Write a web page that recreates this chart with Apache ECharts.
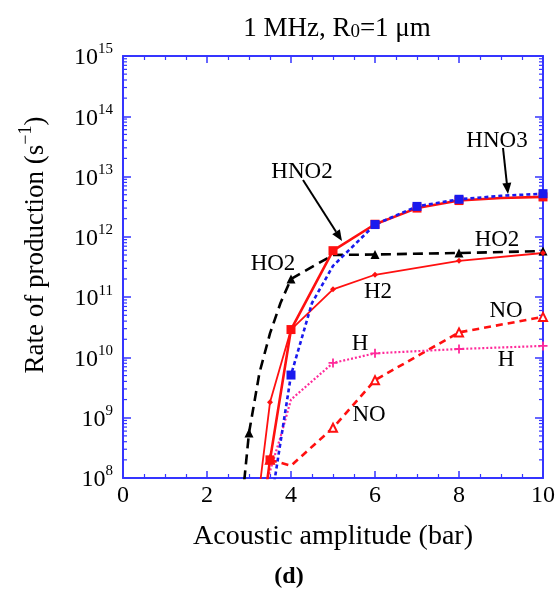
<!DOCTYPE html>
<html>
<head>
<meta charset="utf-8">
<script src="https://cdn.jsdelivr.net/npm/echarts@6/dist/echarts.min.js"></script>
<style>
  html, body { margin: 0; padding: 0; background: #fff; }
  #chart { width: 558px; height: 592px; }
</style>
</head>
<body>
<div id="chart"></div>
<script>
// Rate of production of chemical species vs acoustic amplitude (1 MHz, R0 = 1 µm)

// HNO2
const ampHNO2  = [3.4, 3.5, 4, 5, 6, 7, 8, 9, 10];
const rateHNO2 = [6e7, 2e8, 2.9e10, 5.9e11, 1.62e12, 3.0e12, 4.0e12, 4.4e12, 4.6e12];
const markHNO2 = [3.5, 4, 5, 6, 7, 8, 10];

// HNO3
const ampHNO3  = [3.55, 4, 4.5, 5, 6, 7, 8, 9, 10];
const rateHNO3 = [5e7, 5.1e9, 8e10, 3.3e11, 1.6e12, 3.2e12, 4.2e12, 4.8e12, 5.2e12];
const markHNO3 = [4, 6, 7, 8, 10];

// HO2
const ampHO2  = [2.85, 3, 3.25, 3.5, 3.75, 4, 5, 6, 8, 10];
const rateHO2 = [5e7, 5.6e8, 5.6e9, 2.5e10, 8e10, 2.0e11, 5.0e11, 5.1e11, 5.4e11, 5.8e11];
const markHO2 = [3, 4, 6, 8, 10];

// H2
const ampH2  = [3.25, 3.5, 4, 5, 6, 8, 10];
const rateH2 = [6.8e7, 1.8e9, 2.9e10, 1.35e11, 2.35e11, 4.0e11, 5.4e11];
const markH2 = [3.5, 4, 5, 6, 8, 10];

// H
const ampH  = [3.45, 3.6, 3.75, 4, 5, 6, 8, 10];
const rateH = [1e8, 2.2e8, 4.8e8, 2.0e9, 8.1e9, 1.17e10, 1.38e10, 1.55e10];
const markH = [5, 6, 8, 10];

// NO
const ampNO  = [3.5, 4, 5, 6, 8, 10];
const rateNO = [2e8, 1.6e8, 6.8e8, 4.2e9, 2.6e10, 4.7e10];
const markNO = [3.5, 5, 6, 8, 10];

// axis ranges
const ampMin = 0, ampMax = 10, ampStep = 2;
const rateMin = 1e8, rateMax = 1e15;

const SERIF = "'Liberation Serif','Times New Roman',serif";
const FRAME = '#3535ff';

// log minor tick positions (2..9 within every decade)
const minorRates = [];
for (let k = 8; k < 15; k++) {
  for (let m = 2; m <= 9; m++) minorRates.push(m * Math.pow(10, k));
}

function pairs(xs, ys) { return xs.map((x, i) => [x, ys[i]]); }
function symbolAt(list, sym) {
  return (v) => (list.indexOf(v[0]) >= 0 ? sym : 'none');
}

const plusPath = 'path://M4,0H6V4H10V6H6V10H4V6H0V4H4Z';

function xAxisCfg(pos, showLabel) {
  return {
    type: 'value', min: ampMin, max: ampMax, interval: ampStep, position: pos,
    axisLine: { show: true, onZero: false, lineStyle: { color: FRAME, width: 2 } },
    axisTick: { show: true, inside: true, length: 7, lineStyle: { color: FRAME, width: 1.5 } },
    minorTick: { show: true, splitNumber: 4, length: 4, lineStyle: { color: FRAME, width: 1.2 } },
    splitLine: { show: false },
    axisLabel: { show: showLabel, color: '#000', fontFamily: SERIF, fontSize: 24, margin: 6 }
  };
}
function yAxisCfg(pos, showLabel) {
  return {
    type: 'log', logBase: 10, min: rateMin, max: rateMax, splitNumber: 7, position: pos,
    axisLine: { show: true, onZero: false, lineStyle: { color: FRAME, width: 2 } },
    axisTick: { show: true, inside: true, length: 8, lineStyle: { color: FRAME, width: 1.5 } },
    minorTick: { show: false },
    splitLine: { show: false },
    axisLabel: {
      show: showLabel, margin: 10,
      formatter: (v) => '{b|10}{e|' + Math.round(Math.log10(v)) + '}',
      rich: {
        b: { fontFamily: SERIF, fontSize: 24, color: '#000', verticalAlign: 'bottom', lineHeight: 28 },
        e: { fontFamily: SERIF, fontSize: 15, color: '#000', verticalAlign: 'top', lineHeight: 15 }
      }
    }
  };
}

const xTitle = xAxisCfg('bottom', true);
xTitle.name = 'Acoustic amplitude (bar)';
xTitle.nameLocation = 'middle';
xTitle.nameGap = 45;
xTitle.nameTextStyle = { fontFamily: SERIF, fontSize: 28, color: '#000' };

function lineSeries(name, xs, ys, marks, sym, size, color, width, type, extra) {
  return Object.assign({
    name: name, type: 'line', xAxisIndex: 0, yAxisIndex: 0,
    data: pairs(xs, ys),
    symbol: symbolAt(marks, sym), symbolSize: size,
    itemStyle: { color: color },
    lineStyle: { color: color, width: width, type: type },
    clip: true, silent: true, animation: false
  }, extra || {});
}

const series = [
  lineSeries('HO2', ampHO2, rateHO2, markHO2, 'triangle', 9, '#000', 2.6, [10, 6]),
  lineSeries('NO', ampNO, rateNO, markNO, 'emptyTriangle', 8, '#ff1010', 2.6, [7, 5],
    { itemStyle: { color: '#ff1010', borderWidth: 1.4 } }),
  lineSeries('H', ampH, rateH, markH, plusPath, 9, '#ff2a9a', 2.2, [2, 2]),
  lineSeries('H2', ampH2, rateH2, markH2, 'diamond', 6, '#ff1010', 1.8, 'solid'),
  lineSeries('HNO2', ampHNO2, rateHNO2, markHNO2, 'rect', 9, '#ff1010', 2.6, 'solid'),
  lineSeries('HNO3', ampHNO3, rateHNO3, markHNO3, 'rect', 9, '#1a1aee', 2.6, [4, 3]),
  {
    type: 'custom', coordinateSystem: 'cartesian2d', xAxisIndex: 0, yAxisIndex: 0,
    data: minorRates.map((v) => [ampMin, v]), silent: true, animation: false, z: 3,
    renderItem: (params, api) => {
      const p = api.coord([ampMin, api.value(1)]);
      const cs = params.coordSys;
      const st = { stroke: FRAME, lineWidth: 1.2 };
      return {
        type: 'group', children: [
          { type: 'line', shape: { x1: cs.x, y1: p[1], x2: cs.x + 4, y2: p[1] }, style: st },
          { type: 'line', shape: { x1: cs.x + cs.width, y1: p[1], x2: cs.x + cs.width - 4, y2: p[1] }, style: st }
        ]
      };
    }
  }
];

function label(text, x, y, size, extra) {
  return Object.assign({
    type: 'text', x: x, y: y, silent: true, z: 10,
    style: { text: text, fill: '#000', font: (size || 23) + 'px ' + SERIF, align: 'center', verticalAlign: 'middle' }
  }, extra || {});
}

function arrow(x1, y1, x2, y2) {
  const ang = Math.atan2(y2 - y1, x2 - x1);
  const L = 11, W = 4.5;
  const bx = x2 - L * Math.cos(ang), by = y2 - L * Math.sin(ang);
  const nx = -Math.sin(ang), ny = Math.cos(ang);
  return [
    { type: 'line', silent: true, z: 10, shape: { x1: x1, y1: y1, x2: bx, y2: by }, style: { stroke: '#000', lineWidth: 2 } },
    { type: 'polygon', silent: true, z: 10,
      shape: { points: [[x2, y2], [bx + nx * W, by + ny * W], [bx - nx * W, by - ny * W]] },
      style: { fill: '#000' } }
  ];
}

const graphics = [
  label('HNO2', 302, 172),
  label('HNO3', 497, 141),
  label('HO2', 273, 264),
  label('HO2', 497, 240),
  label('H2', 378, 292),
  label('H', 360, 344),
  label('H', 506, 360),
  label('NO', 506, 311),
  label('NO', 369, 415),
  {
    type: 'text', x: 337, y: 27, silent: true,
    style: {
      text: '{a|1 MHz, R}{s|0}{a|=1 \u03bcm}', align: 'center', verticalAlign: 'middle',
      rich: {
        a: { fontFamily: SERIF, fontSize: 27, fill: '#000', verticalAlign: 'bottom', lineHeight: 30 },
        s: { fontFamily: SERIF, fontSize: 19, fill: '#000', verticalAlign: 'bottom', lineHeight: 24 }
      }
    }
  },
  {
    type: 'text', x: 33, y: 245, rotation: Math.PI / 2, silent: true,
    style: {
      text: '{a|Rate of production (s}{s|\u22121}{a|)}', align: 'center', verticalAlign: 'middle',
      rich: {
        a: { fontFamily: SERIF, fontSize: 27, fill: '#000', verticalAlign: 'bottom', lineHeight: 32 },
        s: { fontFamily: SERIF, fontSize: 18, fill: '#000', verticalAlign: 'top', lineHeight: 18 }
      }
    }
  },
  label('(d)', 289, 577, 24, { style: { text: '(d)', fill: '#000', font: 'bold 24px ' + SERIF, align: 'center', verticalAlign: 'middle' } })
].concat(arrow(303, 180, 342, 241), arrow(503, 148, 508, 194));

const chart = echarts.init(document.getElementById('chart'), null, { renderer: 'canvas' });
chart.setOption({
  animation: false,
  backgroundColor: '#fff',
  grid: { left: 123, right: 11, top: 56, bottom: 114, containLabel: false },
  xAxis: [xTitle, xAxisCfg('top', false)],
  yAxis: [yAxisCfg('left', true), yAxisCfg('right', false)],
  series: series,
  graphic: graphics
});
</script>
</body>
</html>
